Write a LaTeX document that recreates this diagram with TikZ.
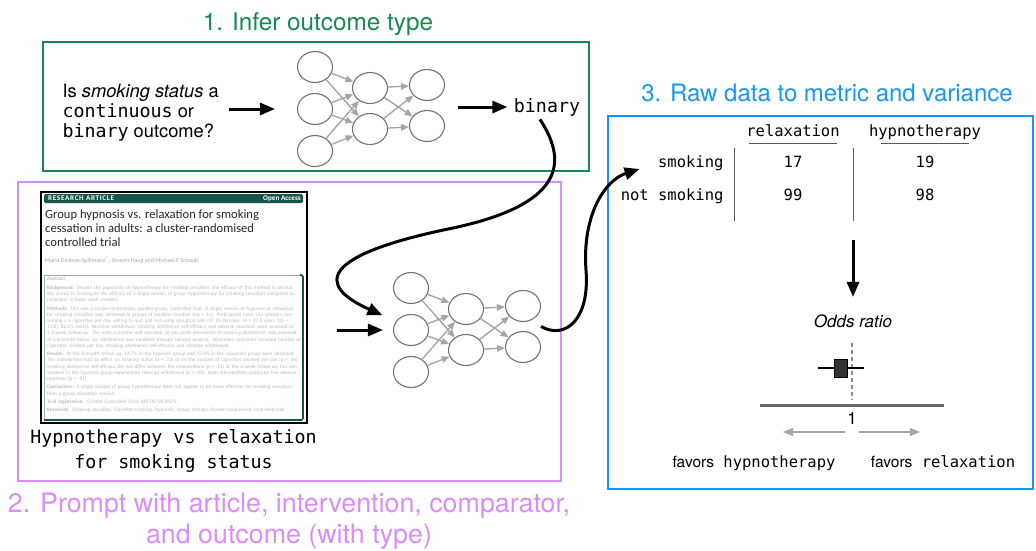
\documentclass[tikz,border=0pt]{standalone}
\usepackage{fontspec}
\setmainfont{TeX Gyre Heros}
\setmonofont{DejaVu Sans Mono}
\newfontfamily\paperfont{Carlito}
\usetikzlibrary{arrows.meta,shapes.geometric,calc,positioning}
\definecolor{stepgreen}{RGB}{22,137,80}
\definecolor{steppurple}{RGB}{218,140,247}
\definecolor{stepblue}{RGB}{22,150,245}
\definecolor{paperteal}{RGB}{24,84,78}

\begin{document}
\begin{tikzpicture}[x=1pt,y=-1pt]
\useasboundingbox (0,0) rectangle (1036,550);
\tikzset{
  panel/.style={draw,line width=2.6pt},
  heading/.style={font=\fontsize{24.3}{31}\selectfont,align=center},
  bigarrow/.style={line width=3pt,-{Triangle[length=15pt,width=12pt]}},
  neuron/.style={ellipse,draw=black!55,line width=1.1pt,minimum width=35pt,minimum height=31pt,inner sep=0},
  synapse/.style={draw=black!35,line width=1.4pt,-{Triangle[length=8pt,width=6.5pt]}},
  code/.style={font=\fontsize{18.3}{20}\selectfont},
  cell/.style={font=\ttfamily\fontsize{15.5}{18}\selectfont,text height=11.5pt,text depth=3.5pt},
  rule/.style={draw=black!65,line width=1pt},
  pointer/.style={draw=black!35,line width=1.5pt,-{Triangle[length=10pt,width=8pt]}},
}
% panels
\draw[panel,stepgreen] (43,42) rectangle (589,171);
\draw[panel,steppurple,line width=2pt] (18,182) rectangle (561,481);
\draw[panel,stepblue] (608,116) rectangle (1033,489);
\node[heading,text=stepgreen] (title1) at (318,24) {1. Infer outcome type};
\node[heading,text=steppurple,font=\fontsize{26.8}{31}\selectfont] (title2) at (289,521) {2. Prompt with article, intervention, comparator,\\and outcome (with type)};
\node[heading,text=stepblue,font=\fontsize{24}{28}\selectfont] (title3) at (827,93) {3. Raw data to metric and variance};

% step 1
\node[code,anchor=west,align=left] (question) at (59,113)
  {Is \textit{smoking status} a\\\texttt{continuous} or\\\texttt{binary} outcome?};

% two small networks
\foreach \net/\ox/\oy in {A/315/67,B/411/288}{
  \foreach \row/\dy in {1/0,2/42,3/84}
    \node[neuron] (\net1\row) at (\ox,\oy+\dy) {};
  \foreach \row/\dy in {1/21,2/62}
    \node[neuron] (\net2\row) at (\ox+55,\oy+\dy) {};
  \foreach \row/\dy in {1/18,2/59}
    \node[neuron] (\net3\row) at (\ox+112,\oy+\dy) {};
  \foreach \i in {1,2,3}
    \foreach \j in {1,2}
      \draw[synapse] (\net1\i) -- (\net2\j);
  \foreach \i in {1,2}
    \foreach \j in {1,2}
      \draw[synapse] (\net2\i) -- (\net3\j);
}

\node[code,font=\ttfamily\fontsize{18.3}{20}\selectfont] (binary) at (547,107) {binary};
\draw[bigarrow,shorten <=7pt,shorten >=22pt] (question.east |- A12) -- (A12.west);
\draw[bigarrow,shorten <=13pt,shorten >=3pt] (A31.east |- binary.west) -- (binary.west);

% step 2
\node[draw,line width=1.2pt,minimum width=266pt,minimum height=231pt,inner sep=0] (paper) at (174,307.5) {};
\fill[paperteal,rounded corners=1.5pt] (44,194) rectangle (303,203);
\node[anchor=west,text=white,inner sep=0,font=\paperfont\bfseries\fontsize{7.2}{8}\selectfont\addfontfeatures{LetterSpace=9}] (kind) at (48,198.5) {RESEARCH ARTICLE};
\node[anchor=east,text=white,inner sep=0,font=\paperfont\bfseries\fontsize{7.2}{8}\selectfont] (access) at (301,198.5) {Open Access};
\node[anchor=north west,inner sep=0,align=left,text=black!85,font=\paperfont\fontsize{12.6}{13.6}\selectfont] (ptitle) at (45,210)
  {Group hypnosis vs. relaxation for smoking\\cessation in adults: a cluster-randomised\\controlled trial};
\node[anchor=west,inner sep=0,text=black!35,font=\paperfont\fontsize{6}{7}\selectfont] (authors) at (45,260)
  {Maria Dickson-Spillmann\textsuperscript{*}, Severin Haug and Michael P Schaub};
\draw[paperteal!45,line width=1pt] (44,420) -- (44,275) -- (303,275);
\draw[paperteal,line width=1.6pt,rounded corners=1.5pt] (300,275) -- (303,275) -- (303,420) -- (44,420);
\node[anchor=north west,inner sep=0,text width=254pt,align=left,text=black!28,font=\paperfont\fontsize{5.15}{6.2}\selectfont] (abstract) at (47,277)
  {\setlength\parskip{2.2pt}\textbf{Abstract}\par
  \textbf{Background:} Despite the popularity of hypnotherapy for smoking cessation, the efficacy of this method is unclear. We aimed to investigate the efficacy of a single-session of group hypnotherapy for smoking cessation compared to relaxation in Swiss adult smokers.\par
  \textbf{Methods:} This was a cluster-randomised, parallel-group, controlled trial. A single session of hypnosis or relaxation for smoking cessation was delivered to groups of smokers (median size = 11). Participants were 223 smokers consuming ≥ 5 cigarettes per day, willing to quit and not using cessation aids (47.1\% females, \textit{M} = 37.5 years [SD = 11.8], 86.1\% Swiss). Nicotine withdrawal, smoking abstinence self-efficacy, and adverse reactions were assessed at a 2-week follow-up. The main outcome, self-reported 30-day point prevalence of smoking abstinence, was assessed at a 6-month follow up. Abstinence was validated through salivary analysis. Secondary outcomes included number of cigarettes smoked per day, smoking abstinence self-efficacy, and nicotine withdrawal.\par
  \textbf{Results:} At the 6-month follow up, 14.7\% in the hypnosis group and 17.8\% in the relaxation group were abstinent. The intervention had no effect on smoking status (p = .73) or on the number of cigarettes smoked per day (p = .56). Smoking abstinence self-efficacy did not differ between the interventions (p = .14) at the 2-week follow-up, but non-smokers in the hypnosis group experienced reduced withdrawal (p = .02). Both interventions produced few adverse reactions (p = .81).\par
  \textbf{Conclusions:} A single session of group hypnotherapy does not appear to be more effective for smoking cessation than a group relaxation session.\par
  \textbf{Trial registration:} Current Controlled Trials ISRCTN72839675.\par
  \textbf{Keywords:} Smoking cessation, Cigarette smoking, Hypnosis, Group therapy, Cluster-randomised controlled trial};
\node[align=center,font=\ttfamily\fontsize{18.3}{25}\selectfont] (prompt) at (173.5,450.5)
  {Hypnotherapy vs relaxation\\for smoking status};
\coordinate (feed) at (337,330);
\draw[bigarrow,shorten >=10pt] (feed) -- (B12.west);

% step 3: two by two table
\node[cell] (hrel) at (793,132) {relaxation};
\node[cell] (hhyp) at (925,132) {hypnotherapy};
\draw[rule] ([xshift=-44pt]hrel.south) -- ([xshift=44pt]hrel.south);
\draw[rule] ([xshift=-44pt]hhyp.south) -- ([xshift=44pt]hhyp.south);
\node[cell,anchor=east] (rsmk) at (727,163) {smoking};
\node[cell,anchor=east] (rnot) at (727,196) {not smoking};
\node[cell] (c11) at (793,163) {17};
\node[cell] (c12) at (925,163) {19};
\node[cell] (c21) at (793,196) {99};
\node[cell] (c22) at (925,196) {98};
\draw[rule] (734,148) -- (734,221);
\draw[rule] (853,148) -- (853,221);

% forest plot
\coordinate (table) at (853,240);
\node[font=\itshape\fontsize{17}{20}\selectfont] (odds) at (853,321) {Odds ratio};
\draw[bigarrow,shorten >=14pt] (table) -- (odds.north);
\draw[black!45,line width=1.2pt,dash pattern=on 4pt off 3pt] (852,343) -- (852,400);
\draw[line width=2.5pt] (818,368) -- (864,368);
\node[draw,fill=black!80,line width=1pt,minimum width=13pt,minimum height=18pt,inner sep=0] (est) at (840.5,368) {};
\draw[black!60,line width=3pt] (760,405) -- (944,405);
\node[font=\fontsize{17}{20}\selectfont] (one) at (852,418) {1};
\draw[pointer] (845,432) -- (783,432);
\draw[pointer] (859,432) -- (920,432);
\node[cell] (favh) at (754,463) {{\rmfamily favors} hypnotherapy};
\node[cell] (favr) at (943,463) {{\rmfamily favors} relaxation};

% hand-offs between steps
\draw[bigarrow,shorten >=14.7pt] ([xshift=-7pt]binary.south) .. controls (570,165) and (560,205) .. (453,228)
  .. controls (320,255) and (315,285) .. (B12.150);
\draw[bigarrow] ($(B31.east)!.5!(B32.east)$) .. controls (565,340) and (590,320) .. (586,270)
  .. controls (582,215) and (605,180) .. ([xshift=-15pt,yshift=-6pt]rsmk.west);
\end{tikzpicture}
\end{document}
